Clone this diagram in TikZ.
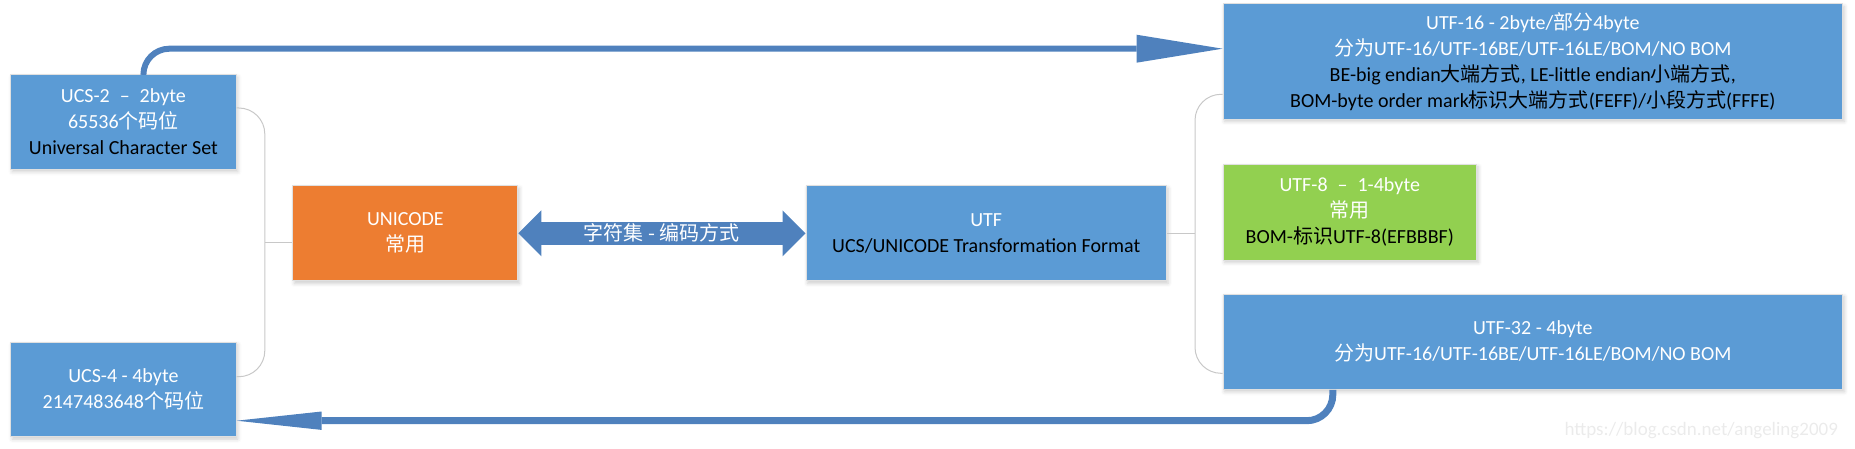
\documentclass[tikz,border=0pt]{standalone}
\usepackage{fontspec}
\setmainfont{Carlito}
\newfontfamily\cjk{Noto Sans CJK SC}
\newcommand{\zh}[1]{{\cjk #1}}
\usepackage{xcolor}
\usepackage{tikz}
\usetikzlibrary{positioning, arrows.meta, calc, shadows.blur}
\definecolor{boxblue}{HTML}{5B9BD5}
\definecolor{boxorange}{HTML}{ED7D31}
\definecolor{boxgreen}{HTML}{92D050}
\definecolor{linkblue}{HTML}{4F81BD}
\definecolor{bracegray}{HTML}{C8C8C8}

\begin{document}
\begin{tikzpicture}[
  x=0.5pt, y=-0.5pt,
  font=\fontsize{10}{13}\selectfont,
  box/.style={draw=black!12, line width=0.5pt, fill=boxblue, text=white,
    align=center, inner sep=0pt,
    blur shadow={shadow xshift=0.8pt, shadow yshift=-1.2pt,
      shadow blur steps=4, shadow opacity=20}},
  link/.style={draw=linkblue, line width=3pt, rounded corners=13pt,
    -{Triangle[length=43pt, width=14pt, line width=0pt]}},
  dbl/.style={draw=linkblue, line width=11.7pt,
    {Triangle[length=11.5pt, width=23pt, line width=0pt]}-{Triangle[length=11.5pt, width=23pt, line width=0pt]}},
  brace/.style={draw=bracegray, line width=0.5pt, rounded corners=13pt},
]
  \useasboundingbox (0,0) rectangle (1855,449);

  \node[box, minimum width=112.7pt, minimum height=47.3pt] (ucs2) at (123.4,122)
    {UCS-2\enspace–\enspace 2byte\\65536\zh{个码位}\\\textcolor{black}{Universal Character Set}};
  \node[box, minimum width=112.7pt, minimum height=47.2pt] (ucs4) at (123.4,389.5)
    {UCS-4 - 4byte\\2147483648\zh{个码位}};
  \node[box, fill=boxorange, minimum width=112.5pt, minimum height=47.6pt] (unicode) at (405.3,233.3)
    {UNICODE\\\zh{常用}};
  \node[box, minimum width=180.2pt, minimum height=47.6pt] (utf) at (986.2,233.3)
    {UTF\\\textcolor{black}{UCS/UNICODE Transformation Format}};
  \node[box, minimum width=309.8pt, minimum height=57.5pt] (utf16) at (1532.8,61.5)
    {UTF-16 - 2byte/\zh{部分}4byte\\\zh{分为}UTF-16/UTF-16BE/UTF-16LE/BOM/NO BOM\\
     \textcolor{black}{BE-big endian\zh{大端方式}, LE-little endian\zh{小端方式},}\\
     \textcolor{black}{BOM-byte order mark\zh{标识大端方式}(FEFF)/\zh{小段方式}(FFFE)}};
  \node[box, fill=boxgreen, minimum width=126.8pt, minimum height=47.8pt] (utf8) at (1349.8,212.2)
    {UTF-8\enspace–\enspace 1-4byte\\\zh{常用}\\\textcolor{black}{BOM-\zh{标识}UTF-8(EFBBBF)}};
  \node[box, minimum width=309.8pt, minimum height=47.6pt] (utf32) at (1532.8,341.7)
    {UTF-32 - 4byte\\\zh{分为}UTF-16/UTF-16BE/UTF-16LE/BOM/NO BOM};

  \coordinate (lbar) at (264.8,242.3);
  \coordinate (rbar) at (1195,233.3);

  \draw[brace] ([yshift=7pt]ucs2.east) -| (lbar) |- ([yshift=6.4pt]ucs4.east);
  \draw[brace] (lbar) -- ([yshift=-4.5pt]unicode.west);
  \draw[brace] ([yshift=-16.4pt]utf16.west) -| (rbar) |- ([yshift=-15.8pt]utf32.west);
  \draw[brace] (utf) -- (rbar);

  \draw[dbl] (unicode) -- node[text=white] {\zh{字符集 - 编码方式}} (utf);
  \draw[link] ([xshift=10pt]ucs2.north) |- ([yshift=6.4pt]utf16.west);
  \draw[link, line width=3.5pt, -{Triangle[length=42.5pt, width=9.2pt, line width=0pt]}]
    ([xshift=-100pt]utf32.south) |- ([yshift=-15.6pt]ucs4.east);

  \node[text=black!8, font=\fontsize{9.5}{9.5}\selectfont, anchor=east] (mark) at (1845,431)
    {https://blog.csdn.net/angeling2009};
\end{tikzpicture}
\end{document}
